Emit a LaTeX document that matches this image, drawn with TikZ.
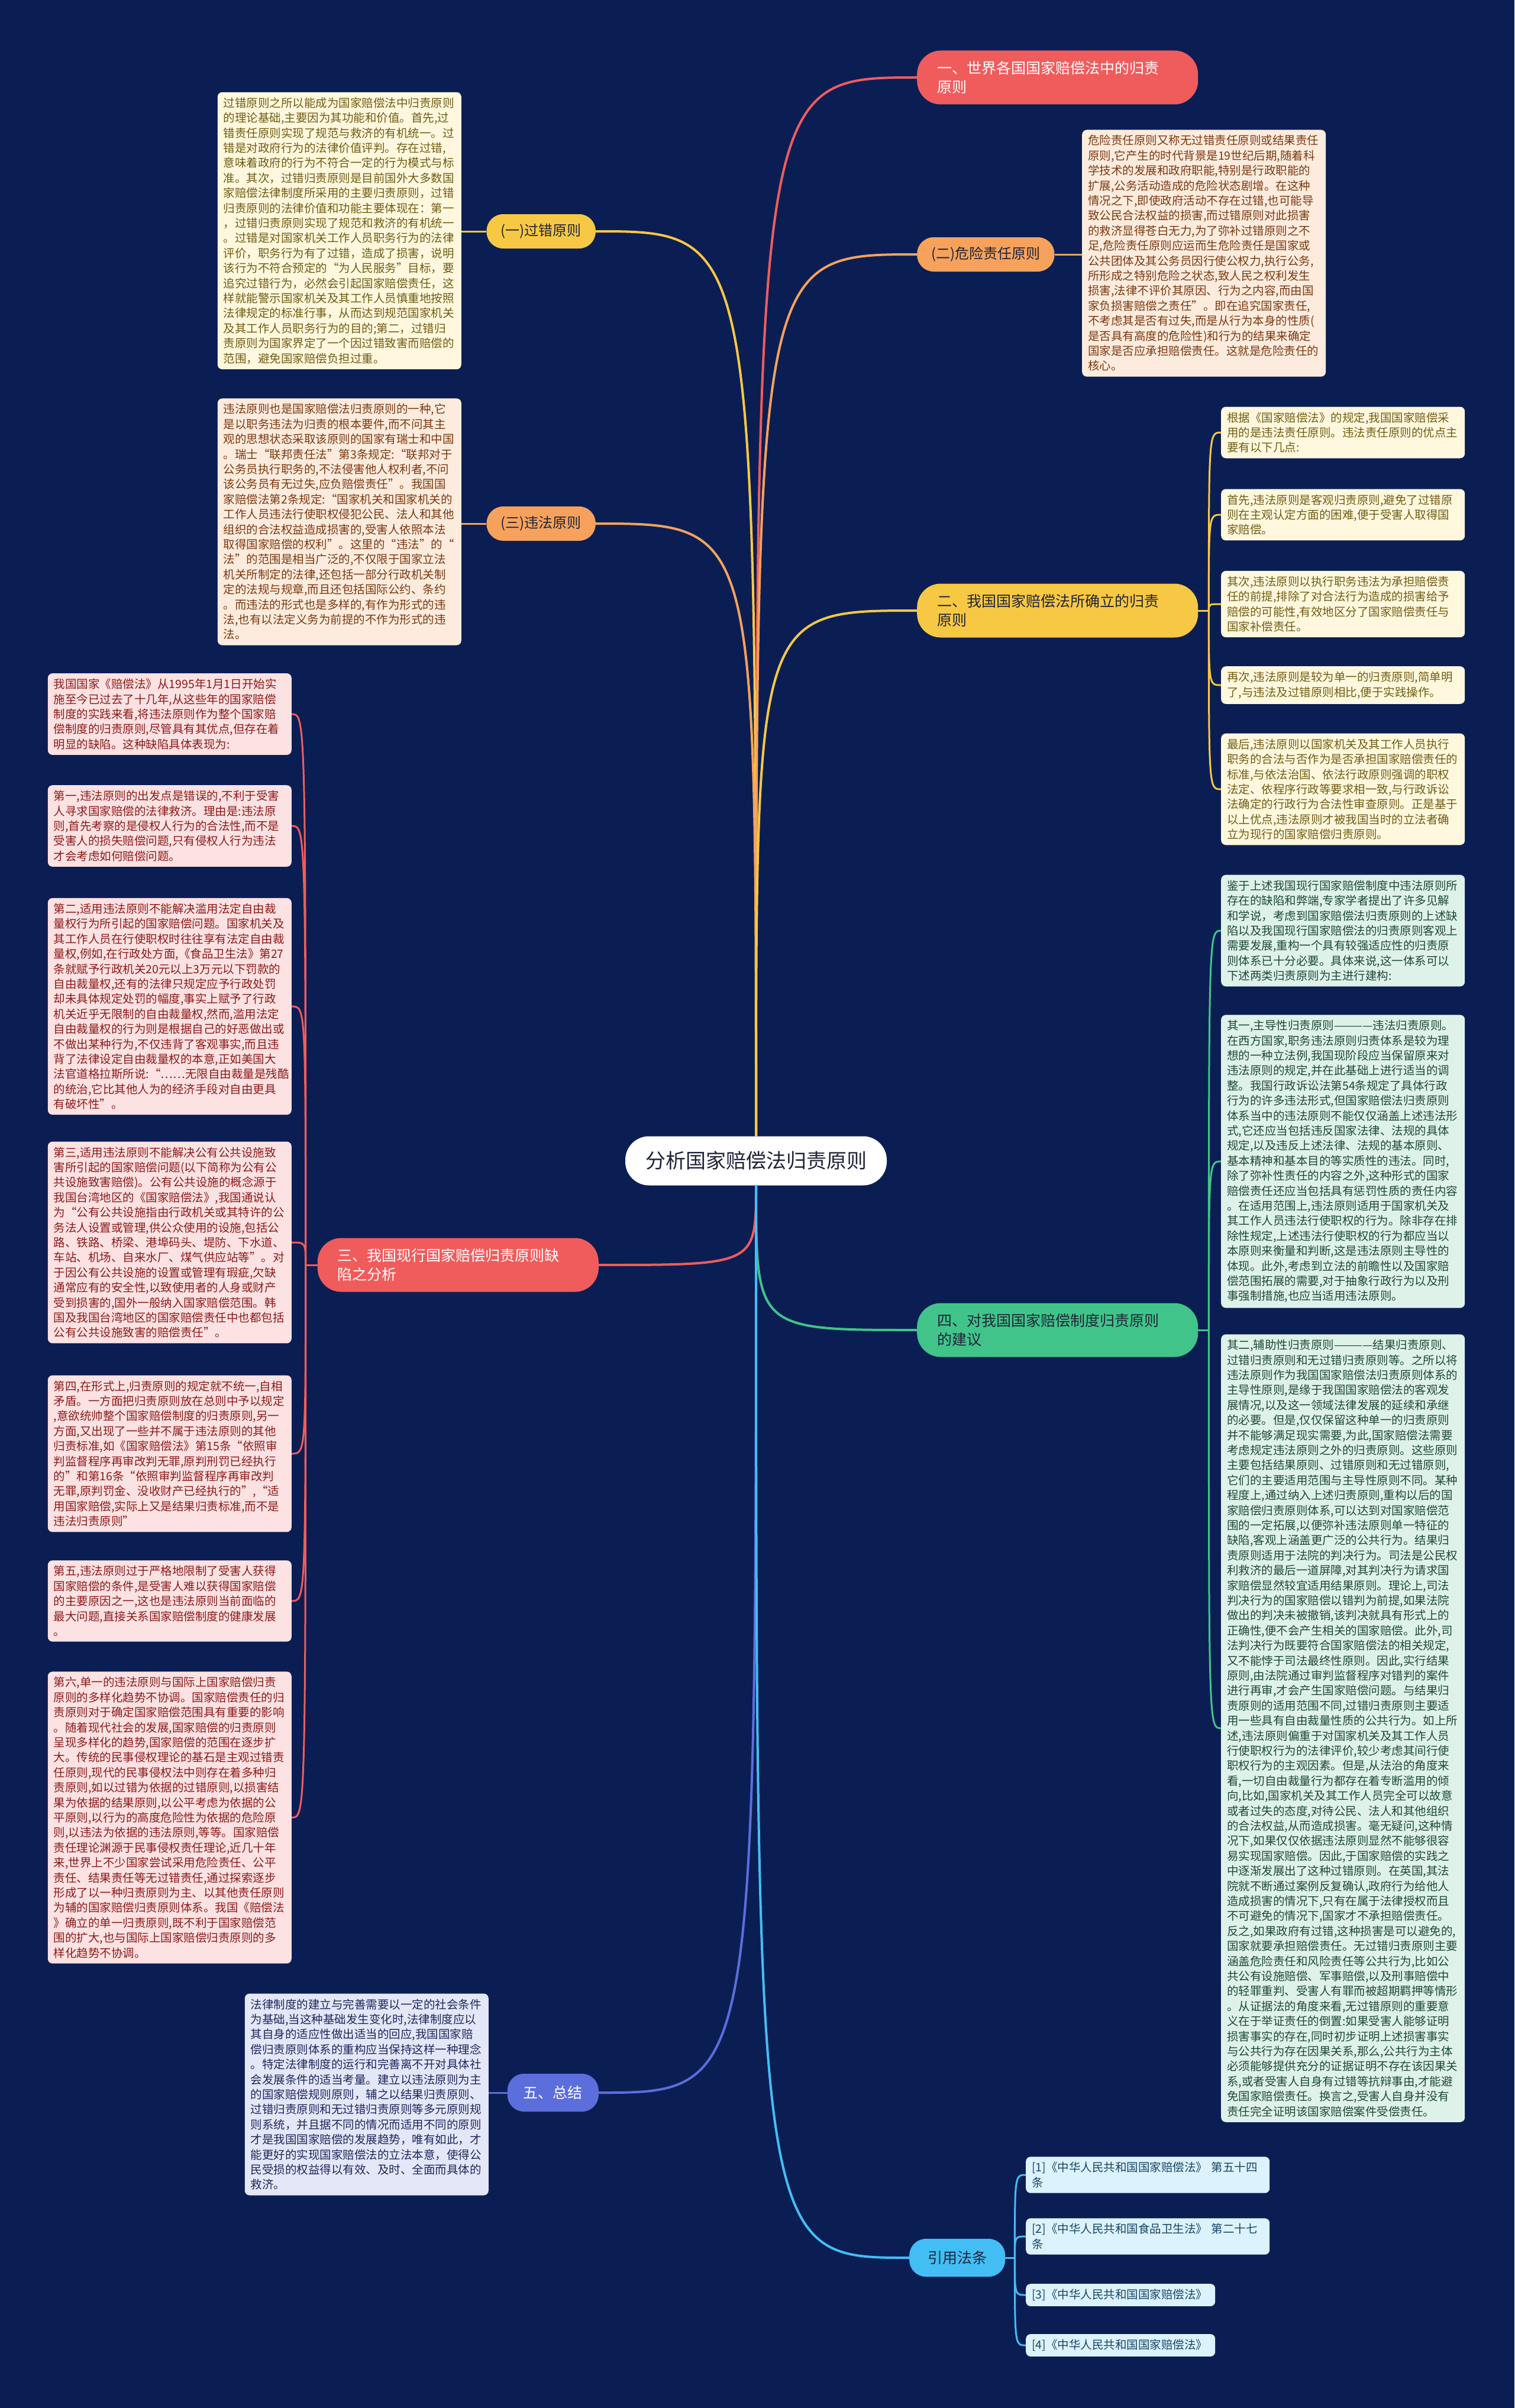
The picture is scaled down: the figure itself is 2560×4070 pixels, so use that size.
\documentclass[tikz,border=0pt]{standalone}
\usepackage{fontspec}
\setmainfont{Noto Sans CJK SC}
\setlength{\parindent}{0pt}
\definecolor{bg}{RGB}{11,30,84}
\definecolor{ink}{RGB}{32,36,56}
\definecolor{redbr}{RGB}{240,92,92}
\definecolor{ylw}{RGB}{247,200,67}
\definecolor{org}{RGB}{246,162,92}
\definecolor{grn}{RGB}{64,196,138}
\definecolor{vio}{RGB}{92,110,220}
\definecolor{cyn}{RGB}{66,190,245}
\definecolor{cream}{RGB}{255,248,222}
\definecolor{olive}{RGB}{112,92,20}
\definecolor{peach}{RGB}{253,236,222}
\definecolor{rust}{RGB}{122,56,16}
\definecolor{rose}{RGB}{252,226,226}
\definecolor{wine}{RGB}{140,26,26}
\definecolor{mint}{RGB}{222,242,234}
\definecolor{pine}{RGB}{30,72,56}
\definecolor{lilac}{RGB}{228,231,248}
\definecolor{navyink}{RGB}{30,40,90}
\definecolor{sky}{RGB}{220,242,252}
\definecolor{teal}{RGB}{24,70,100}

\begin{document}
\begin{tikzpicture}[x=1pt, y=1pt,
  root/.style={fill=white, text=ink, rounded corners=40pt, inner xsep=34pt, minimum height=83pt, font=\fontsize{34}{40}\selectfont},
  branch/.style={rounded corners=40pt, text width=407pt, align=left, inner xsep=34pt, inner ysep=13pt, minimum height=91pt, font=\fontsize{25}{32}\selectfont},
  pill/.style={rounded corners=28pt, inner xsep=24pt, minimum height=58pt, font=\fontsize{24}{30}\selectfont},
  card/.style={rounded corners=8pt, text width=392pt, align=left, inner xsep=10pt, inner ysep=9pt, font=\fontsize{19.5}{25.4}\selectfont},
  wire/.style={line width=4pt},
  twig/.style={line width=3pt}]
\fill[bg] (0,0) rectangle (2560,-4070);

\node[root] (root) at (1278,-1962) {分析国家赔偿法归责原则};

\node[branch, fill=redbr, text=white, anchor=west] (one) at (1550,-131) {一、世界各国国家赔偿法中的归责\\原则};
\node[branch, fill=ylw, text=ink, anchor=west] (two) at (1550,-1032) {二、我国国家赔偿法所确立的归责\\原则};
\node[branch, fill=redbr, text=white, anchor=east] (three) at (1012,-2138) {三、我国现行国家赔偿归责原则缺\\陷之分析};
\node[branch, fill=grn, text=ink, anchor=west] (four) at (1550,-2248) {四、对我国国家赔偿制度归责原则\\的建议};
\node[pill, fill=vio, text=white, anchor=east, inner xsep=27pt, minimum height=64pt, font=\fontsize{25}{30}\selectfont] (five) at (1012,-3537) {五、总结};
\node[pill, fill=cyn, text=ink, anchor=west, inner xsep=31pt, minimum height=64pt, font=\fontsize{25}{30}\selectfont] (cite) at (1537,-3816) {引用法条};
\node[pill, fill=ylw, text=ink, anchor=east] (fault) at (1007,-391) {(一)过错原则};
\node[pill, fill=org, text=ink, anchor=west] (risk) at (1550,-430) {(二)危险责任原则};
\node[pill, fill=org, text=ink, anchor=east] (illegal) at (1007,-885) {(三)违法原则};

\node[card, fill=cream, text=olive, anchor=east] (faultbox) at (780,-390) {过错原则之所以能成为国家赔偿法中归责原则\\的理论基础,主要因为其功能和价值。首先,过\\错责任原则实现了规范与救济的有机统一。过\\错是对政府行为的法律价值评判。存在过错,\\意味着政府的行为不符合一定的行为模式与标\\准。其次，过错归责原则是目前国外大多数国\\家赔偿法律制度所采用的主要归责原则，过错\\归责原则的法律价值和功能主要体现在：第一\\，过错归责原则实现了规范和救济的有机统一\\。过错是对国家机关工作人员职务行为的法律\\评价，职务行为有了过错，造成了损害，说明\\该行为不符合预定的“为人民服务”目标，要\\追究过错行为，必然会引起国家赔偿责任，这\\样就能警示国家机关及其工作人员慎重地按照\\法律规定的标准行事，从而达到规范国家机关\\及其工作人员职务行为的目的;第二，过错归\\责原则为国家界定了一个因过错致害而赔偿的\\范围，避免国家赔偿负担过重。};

\node[card, fill=peach, text=rust, anchor=west] (riskbox) at (1829,-428) {危险责任原则又称无过错责任原则或结果责任\\原则,它产生的时代背景是19世纪后期,随着科\\学技术的发展和政府职能,特别是行政职能的\\扩展,公务活动造成的危险状态剧增。在这种\\情况之下,即使政府活动不存在过错,也可能导\\致公民合法权益的损害,而过错原则对此损害\\的救济显得苍白无力,为了弥补过错原则之不\\足,危险责任原则应运而生危险责任是国家或\\公共团体及其公务员因行使公权力,执行公务,\\所形成之特别危险之状态,致人民之权利发生\\损害,法律不评价其原因、行为之内容,而由国\\家负损害赔偿之责任”。即在追究国家责任,\\不考虑其是否有过失,而是从行为本身的性质(\\是否具有高度的危险性)和行为的结果来确定\\国家是否应承担赔偿责任。这就是危险责任的\\核心。};

\node[card, fill=peach, text=rust, anchor=east] (illegalbox) at (780,-882) {违法原则也是国家赔偿法归责原则的一种,它\\是以职务违法为归责的根本要件,而不问其主\\观的思想状态采取该原则的国家有瑞士和中国\\。瑞士“联邦责任法”第3条规定:“联邦对于\\公务员执行职务的,不法侵害他人权利者,不问\\该公务员有无过失,应负赔偿责任”。我国国\\家赔偿法第2条规定:“国家机关和国家机关的\\工作人员违法行使职权侵犯公民、法人和其他\\组织的合法权益造成损害的,受害人依照本法\\取得国家赔偿的权利”。这里的“违法”的“\\法”的范围是相当广泛的,不仅限于国家立法\\机关所制定的法律,还包括一部分行政机关制\\定的法规与规章,而且还包括国际公约、条约\\。而违法的形式也是多样的,有作为形式的违\\法,也有以法定义务为前提的不作为形式的违\\法。};

\node[card, fill=cream, text=olive, anchor=west] (ta) at (2064,-731) {根据《国家赔偿法》的规定,我国国家赔偿采\\用的是违法责任原则。违法责任原则的优点主\\要有以下几点:};
\node[card, fill=cream, text=olive, anchor=west] (tb) at (2064,-870) {首先,违法原则是客观归责原则,避免了过错原\\则在主观认定方面的困难,便于受害人取得国\\家赔偿。};
\node[card, fill=cream, text=olive, anchor=west] (tc) at (2064,-1021) {其次,违法原则以执行职务违法为承担赔偿责\\任的前提,排除了对合法行为造成的损害给予\\赔偿的可能性,有效地区分了国家赔偿责任与\\国家补偿责任。};
\node[card, fill=cream, text=olive, anchor=west] (td) at (2064,-1158) {再次,违法原则是较为单一的归责原则,简单明\\了,与违法及过错原则相比,便于实践操作。};
\node[card, fill=cream, text=olive, anchor=west] (te) at (2064,-1334) {最后,违法原则以国家机关及其工作人员执行\\职务的合法与否作为是否承担国家赔偿责任的\\标准,与依法治国、依法行政原则强调的职权\\法定、依程序行政等要求相一致,与行政诉讼\\法确定的行政行为合法性审查原则。正是基于\\以上优点,违法原则才被我国当时的立法者确\\立为现行的国家赔偿归责原则。};

\node[card, fill=rose, text=wine, anchor=east] (pa) at (493,-1207) {我国国家《赔偿法》从1995年1月1日开始实\\施至今已过去了十几年,从这些年的国家赔偿\\制度的实践来看,将违法原则作为整个国家赔\\偿制度的归责原则,尽管具有其优点,但存在着\\明显的缺陷。这种缺陷具体表现为:};
\node[card, fill=rose, text=wine, anchor=east] (pb) at (493,-1396) {第一,违法原则的出发点是错误的,不利于受害\\人寻求国家赔偿的法律救济。理由是:违法原\\则,首先考察的是侵权人行为的合法性,而不是\\受害人的损失赔偿问题,只有侵权人行为违法\\才会考虑如何赔偿问题。};
\node[card, fill=rose, text=wine, anchor=east] (pc) at (493,-1701) {第二,适用违法原则不能解决滥用法定自由裁\\量权行为所引起的国家赔偿问题。国家机关及\\其工作人员在行使职权时往往享有法定自由裁\\量权,例如,在行政处方面,《食品卫生法》第27\\条就赋予行政机关20元以上3万元以下罚款的\\自由裁量权,还有的法律只规定应予行政处罚\\却未具体规定处罚的幅度,事实上赋予了行政\\机关近乎无限制的自由裁量权,然而,滥用法定\\自由裁量权的行为则是根据自己的好恶做出或\\不做出某种行为,不仅违背了客观事实,而且违\\背了法律设定自由裁量权的本意,正如美国大\\法官道格拉斯所说:“……无限自由裁量是残酷\\的统治,它比其他人为的经济手段对自由更具\\有破坏性”。};
\node[card, fill=rose, text=wine, anchor=east] (pd) at (493,-2100) {第三,适用违法原则不能解决公有公共设施致\\害所引起的国家赔偿问题(以下简称为公有公\\共设施致害赔偿)。公有公共设施的概念源于\\我国台湾地区的《国家赔偿法》,我国通说认\\为“公有公共设施指由行政机关或其特许的公\\务法人设置或管理,供公众使用的设施,包括公\\路、铁路、桥梁、港埠码头、堤防、下水道、\\车站、机场、自来水厂、煤气供应站等”。对\\于因公有公共设施的设置或管理有瑕疵,欠缺\\通常应有的安全性,以致使用者的人身或财产\\受到损害的,国外一般纳入国家赔偿范围。韩\\国及我国台湾地区的国家赔偿责任中也都包括\\公有公共设施致害的赔偿责任”。};
\node[card, fill=rose, text=wine, anchor=east] (pe) at (493,-2457) {第四,在形式上,归责原则的规定就不统一,自相\\矛盾。一方面把归责原则放在总则中予以规定\\,意欲统帅整个国家赔偿制度的归责原则,另一\\方面,又出现了一些并不属于违法原则的其他\\归责标准,如《国家赔偿法》第15条“依照审\\判监督程序再审改判无罪,原判刑罚已经执行\\的”和第16条“依照审判监督程序再审改判\\无罪,原判罚金、没收财产已经执行的”,“适\\用国家赔偿,实际上又是结果归责标准,而不是\\违法归责原则”};
\node[card, fill=rose, text=wine, anchor=east] (pf) at (493,-2706) {第五,违法原则过于严格地限制了受害人获得\\国家赔偿的条件,是受害人难以获得国家赔偿\\的主要原因之一,这也是违法原则当前面临的\\最大问题,直接关系国家赔偿制度的健康发展\\。};
\node[card, fill=rose, text=wine, anchor=east] (pg) at (493,-3072) {第六,单一的违法原则与国际上国家赔偿归责\\原则的多样化趋势不协调。国家赔偿责任的归\\责原则对于确定国家赔偿范围具有重要的影响\\。随着现代社会的发展,国家赔偿的归责原则\\呈现多样化的趋势,国家赔偿的范围在逐步扩\\大。传统的民事侵权理论的基石是主观过错责\\任原则,现代的民事侵权法中则存在着多种归\\责原则,如以过错为依据的过错原则,以损害结\\果为依据的结果原则,以公平考虑为依据的公\\平原则,以行为的高度危险性为依据的危险原\\则,以违法为依据的违法原则,等等。国家赔偿\\责任理论渊源于民事侵权责任理论,近几十年\\来,世界上不少国家尝试采用危险责任、公平\\责任、结果责任等无过错责任,通过探索逐步\\形成了以一种归责原则为主、以其他责任原则\\为辅的国家赔偿归责原则体系。我国《赔偿法\\》确立的单一归责原则,既不利于国家赔偿范\\围的扩大,也与国际上国家赔偿归责原则的多\\样化趋势不协调。};

\node[card, fill=mint, text=pine, anchor=west] (fa) at (2064,-1573) {鉴于上述我国现行国家赔偿制度中违法原则所\\存在的缺陷和弊端,专家学者提出了许多见解\\和学说，考虑到国家赔偿法归责原则的上述缺\\陷以及我国现行国家赔偿法的归责原则客观上\\需要发展,重构一个具有较强适应性的归责原\\则体系已十分必要。具体来说,这一体系可以\\下述两类归责原则为主进行建构:};
\node[card, fill=mint, text=pine, anchor=west] (fb) at (2064,-1963) {其一,主导性归责原则————违法归责原则。\\在西方国家,职务违法原则归责体系是较为理\\想的一种立法例,我国现阶段应当保留原来对\\违法原则的规定,并在此基础上进行适当的调\\整。我国行政诉讼法第54条规定了具体行政\\行为的许多违法形式,但国家赔偿法归责原则\\体系当中的违法原则不能仅仅涵盖上述违法形\\式,它还应当包括违反国家法律、法规的具体\\规定,以及违反上述法律、法规的基本原则、\\基本精神和基本目的等实质性的违法。同时,\\除了弥补性责任的内容之外,这种形式的国家\\赔偿责任还应当包括具有惩罚性质的责任内容\\。在适用范围上,违法原则适用于国家机关及\\其工作人员违法行使职权的行为。除非存在排\\除性规定,上述违法行使职权的行为都应当以\\本原则来衡量和判断,这是违法原则主导性的\\体现。此外,考虑到立法的前瞻性以及国家赔\\偿范围拓展的需要,对于抽象行政行为以及刑\\事强制措施,也应当适用违法原则。};
\node[card, fill=mint, text=pine, anchor=west] (fc) at (2064,-2921) {其二,辅助性归责原则————结果归责原则、\\过错归责原则和无过错归责原则等。之所以将\\违法原则作为我国国家赔偿法归责原则体系的\\主导性原则,是缘于我国国家赔偿法的客观发\\展情况,以及这一领域法律发展的延续和承继\\的必要。但是,仅仅保留这种单一的归责原则\\并不能够满足现实需要,为此,国家赔偿法需要\\考虑规定违法原则之外的归责原则。这些原则\\主要包括结果原则、过错原则和无过错原则,\\它们的主要适用范围与主导性原则不同。某种\\程度上,通过纳入上述归责原则,重构以后的国\\家赔偿归责原则体系,可以达到对国家赔偿范\\围的一定拓展,以便弥补违法原则单一特征的\\缺陷,客观上涵盖更广泛的公共行为。结果归\\责原则适用于法院的判决行为。司法是公民权\\利救济的最后一道屏障,对其判决行为请求国\\家赔偿显然较宜适用结果原则。理论上,司法\\判决行为的国家赔偿以错判为前提,如果法院\\做出的判决未被撤销,该判决就具有形式上的\\正确性,便不会产生相关的国家赔偿。此外,司\\法判决行为既要符合国家赔偿法的相关规定,\\又不能悖于司法最终性原则。因此,实行结果\\原则,由法院通过审判监督程序对错判的案件\\进行再审,才会产生国家赔偿问题。与结果归\\责原则的适用范围不同,过错归责原则主要适\\用一些具有自由裁量性质的公共行为。如上所\\述,违法原则偏重于对国家机关及其工作人员\\行使职权行为的法律评价,较少考虑其间行使\\职权行为的主观因素。但是,从法治的角度来\\看,一切自由裁量行为都存在着专断滥用的倾\\向,比如,国家机关及其工作人员完全可以故意\\或者过失的态度,对待公民、法人和其他组织\\的合法权益,从而造成损害。毫无疑问,这种情\\况下,如果仅仅依据违法原则显然不能够很容\\易实现国家赔偿。因此,于国家赔偿的实践之\\中逐渐发展出了这种过错原则。在英国,其法\\院就不断通过案例反复确认,政府行为给他人\\造成损害的情况下,只有在属于法律授权而且\\不可避免的情况下,国家才不承担赔偿责任。\\反之,如果政府有过错,这种损害是可以避免的,\\国家就要承担赔偿责任。无过错归责原则主要\\涵盖危险责任和风险责任等公共行为,比如公\\共公有设施赔偿、军事赔偿,以及刑事赔偿中\\的轻罪重判、受害人有罪而被超期羁押等情形\\。从证据法的角度来看,无过错原则的重要意\\义在于举证责任的倒置:如果受害人能够证明\\损害事实的存在,同时初步证明上述损害事实\\与公共行为存在因果关系,那么,公共行为主体\\必须能够提供充分的证据证明不存在该因果关\\系,或者受害人自身有过错等抗辩事由,才能避\\免国家赔偿责任。换言之,受害人自身并没有\\责任完全证明该国家赔偿案件受偿责任。};

\node[card, fill=lilac, text=navyink, anchor=east] (fivebox) at (826,-3540) {法律制度的建立与完善需要以一定的社会条件\\为基础,当这种基础发生变化时,法律制度应以\\其自身的适应性做出适当的回应,我国国家赔\\偿归责原则体系的重构应当保持这样一种理念\\。特定法律制度的运行和完善离不开对具体社\\会发展条件的适当考量。建立以违法原则为主\\的国家赔偿规则原则，辅之以结果归责原则、\\过错归责原则和无过错归责原则等多元原则规\\则系统，并且据不同的情况而适用不同的原则\\才是我国国家赔偿的发展趋势，唯有如此，才\\能更好的实现国家赔偿法的立法本意，使得公\\民受损的权益得以有效、及时、全面而具体的\\救济。};

\node[card, fill=sky, text=teal, anchor=west] (ca) at (1734,-3676) {[1]《中华人民共和国国家赔偿法》 第五十四\\条};
\node[card, fill=sky, text=teal, anchor=west] (cb) at (1734,-3780) {[2]《中华人民共和国食品卫生法》 第二十七\\条};
\node[card, fill=sky, text=teal, anchor=west, text width=300pt] (cc) at (1734,-3879) {[3]《中华人民共和国国家赔偿法》};
\node[card, fill=sky, text=teal, anchor=west, text width=300pt] (cd) at (1734,-3964) {[4]《中华人民共和国国家赔偿法》};

\foreach \s/\n/\a/\c in {north/one/west/redbr, north/fault/east/ylw, north/risk/west/org, north/illegal/east/org, north/two/west/ylw, south/three/east/redbr, south/four/west/grn, south/five/east/vio, south/cite/west/cyn}
  \draw[wire, draw=\c] (root.\s) .. controls (root.\s |- \n.\a) .. (\n.\a);

\draw[twig, draw=ylw] (fault.west) -- (fault.west -| faultbox.east);
\draw[twig, draw=org] (risk.east) -- (risk.east -| riskbox.west);
\draw[twig, draw=org] (illegal.west) -- (illegal.west -| illegalbox.east);
\draw[twig, draw=vio] (five.west) -- (five.west -| fivebox.east);

\draw[twig, draw=ylw] (two.east) -- ++(18,0) coordinate (s2);
\foreach \b in {ta,tb,tc,td,te}
  \draw[twig, draw=ylw] (s2) .. controls (s2 |- \b.west) .. (\b.west);
\draw[twig, draw=redbr] (three.west) -- ++(-20,0) coordinate (s3);
\foreach \b in {pa,pb,pc,pd,pe,pf,pg}
  \draw[twig, draw=redbr] (s3) .. controls (s3 |- \b.east) .. (\b.east);
\draw[twig, draw=grn] (four.east) -- ++(18,0) coordinate (s4);
\foreach \b in {fa,fb,fc}
  \draw[twig, draw=grn] (s4) .. controls (s4 |- \b.west) .. (\b.west);
\draw[twig, draw=cyn] (cite.east) -- ++(16,0) coordinate (s6);
\foreach \b in {ca,cb,cc,cd}
  \draw[twig, draw=cyn] (s6) .. controls (s6 |- \b.west) .. (\b.west);
\end{tikzpicture}
\end{document}
